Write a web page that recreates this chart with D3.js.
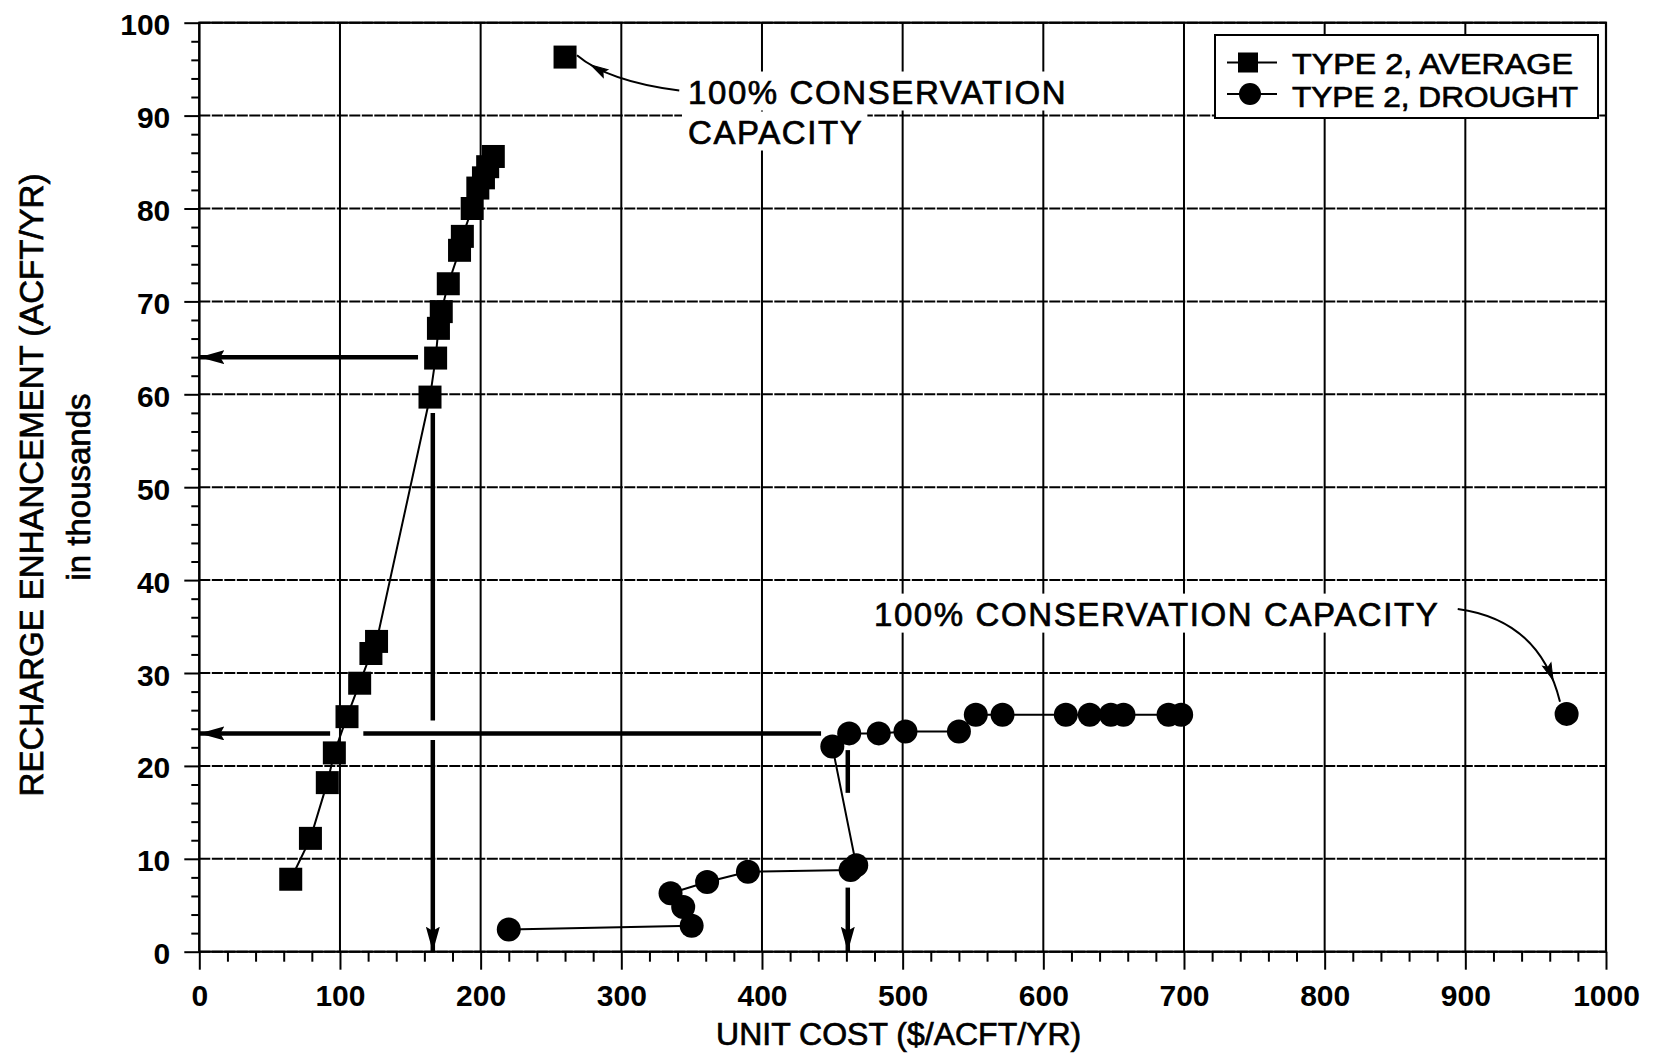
<!DOCTYPE html>
<html>
<head>
<meta charset="utf-8">
<script src="https://cdn.jsdelivr.net/npm/d3@7"></script>
<style>
  html, body { margin: 0; padding: 0; background: #fff; }
  svg { display: block; }
  text { font-family: "Liberation Sans", Arial, Helvetica, sans-serif; fill: #000; }
  text.heavy { stroke: #000; stroke-width: 0.7px; }
</style>
</head>
<body>
<svg id="chart" width="1660" height="1059"></svg>
<script>
// Type 2 recharge enhancement (thousand acre-feet/yr) against unit cost ($/acre-foot/yr)
const averageCost     = [65, 79, 91, 96, 105, 114, 122, 126, 164, 168, 170, 172, 177, 185, 187, 194, 198, 202, 205, 209];
const averageRecharge = [7.8, 12.2, 18.2, 21.4, 25.3, 28.9, 32.1, 33.4, 59.7, 63.9, 67.1, 68.9, 71.9, 75.5, 77.0, 80.0, 82.2, 83.3, 84.5, 85.6];

const droughtCost     = [220, 350, 344, 335, 361, 390, 463, 467, 450, 462, 483, 502, 540, 552, 571, 616, 633, 648, 657, 689, 698];
const droughtRecharge = [2.4, 2.8, 4.8, 6.3, 7.5, 8.6, 8.8, 9.3, 22.1, 23.5, 23.5, 23.7, 23.7, 25.5, 25.5, 25.5, 25.5, 25.5, 25.5, 25.5, 25.5];

// 100% conservation capacity points (average, drought)
const capacityCost     = [260, 972];
const capacityRecharge = [96.3, 25.6];

// Axis ticks
const xMajorTicks = d3.range(0, 1001, 100);
const yMajorTicks = d3.range(0, 101, 10);
const xMinorTicks = d3.range(0, 1000, 20).filter(v => v % 100 !== 0);
const yMinorTicks = d3.range(0, 100, 2).filter(v => v % 10 !== 0);

// Read-off guide lines (cost, recharge) pairs; the last piece of each guide carries an arrowhead
const guideSegments = [
  [[155.5, 64.0], [0, 64.0]],
  [[166, 58.0], [166, 24.9]],
  [[166, 22.8], [166, 0]],
  [[442, 23.5], [116.6, 23.5]],
  [[93, 23.5], [0, 23.5]],
  [[461, 21.7], [461, 17.1]],
  [[461, 6.9], [461, 0]]
];
const guideArrowed = [true, false, true, false, true, false, true];

// Annotation callouts: text anchor, curve start / control / end (data units)
const noteLines   = [["100% CONSERVATION", "CAPACITY"], ["100% CONSERVATION CAPACITY"]];
const noteAnchor  = [[347.4, 91.3], [479.6, 35.1]];
const noteCurve   = [
  [[341.2, 92.7], [290.2, 93.7], [268.5, 96.5]],
  [[894.6, 36.9], [953.0, 35.7], [967.3, 26.9]]
];
const noteHeadAt  = [0.8, 0.86];   // curve parameter where each arrowhead tip sits

const legendLabels = ["TYPE 2, AVERAGE", "TYPE 2, DROUGHT"];

const svg = d3.select("#chart");
const plotLeft = 199.3, plotRight = 1606, plotTop = 22.7, plotBottom = 951.7;

const x = d3.scaleLinear().domain([0, 1000]).range([plotLeft, plotRight]);
const y = d3.scaleLinear().domain([0, 100]).range([plotBottom, plotTop]);

const defs = svg.append("defs");
defs.append("marker")
  .attr("id", "bigHead").attr("markerUnits", "userSpaceOnUse")
  .attr("viewBox", "0 0 25 14").attr("refX", 25).attr("refY", 7)
  .attr("markerWidth", 25).attr("markerHeight", 14).attr("orient", "auto")
  .append("path").attr("d", "M0,0 L25,7 L0,14 L4,7 Z").attr("fill", "#000");

// Gridlines
const grid = svg.append("g");
grid.selectAll("line.h").data(yMajorTicks).join("line").attr("class", "h")
  .attr("x1", x(0)).attr("x2", x(1000))
  .attr("y1", d => y(d)).attr("y2", d => y(d))
  .attr("stroke", "#000").attr("stroke-width", 2)
  .attr("stroke-dasharray", "11,1.5");
grid.selectAll("line.v").data(xMajorTicks).join("line").attr("class", "v")
  .attr("x1", d => x(d)).attr("x2", d => x(d))
  .attr("y1", y(0)).attr("y2", y(100))
  .attr("stroke", "#000").attr("stroke-width", 2);

// Axes
const styleAxis = g => {
  g.select(".domain").remove();
  g.selectAll(".tick line").attr("stroke", "#000").attr("stroke-width", 2);
  g.selectAll("text").attr("font-size", 30).attr("font-weight", "bold")
    .attr("font-family", "\"Liberation Sans\", Arial, sans-serif").attr("fill", "#000");
};
svg.append("g").attr("transform", `translate(${plotLeft},0)`)
  .call(d3.axisLeft(y).tickValues(yMajorTicks).tickSize(15).tickPadding(14).tickFormat(d3.format("d")))
  .call(styleAxis)
  .call(g => g.selectAll("text").attr("dy", "0.4em"));
svg.append("g").attr("transform", `translate(${plotLeft},0)`)
  .call(d3.axisLeft(y).tickValues(yMinorTicks).tickSize(8).tickFormat(""))
  .call(styleAxis);
svg.append("g").attr("transform", `translate(0,${plotBottom})`)
  .call(d3.axisBottom(x).tickValues(xMajorTicks).tickSize(18).tickPadding(15).tickFormat(d3.format("d")))
  .call(styleAxis);
svg.append("g").attr("transform", `translate(0,${plotBottom})`)
  .call(d3.axisBottom(x).tickValues(xMinorTicks).tickSize(10).tickFormat(""))
  .call(styleAxis);

// Frame
svg.append("rect")
  .attr("x", plotLeft).attr("y", plotTop).attr("width", plotRight - plotLeft).attr("height", plotBottom - plotTop)
  .attr("fill", "none").attr("stroke", "#000").attr("stroke-width", 2.2);

// Axis titles
svg.append("text").attr("class", "heavy")
  .attr("x", (plotLeft + plotRight) / 2 - 4).attr("y", 1045)
  .attr("text-anchor", "middle").attr("font-size", 32)
  .text("UNIT COST ($/ACFT/YR)");
svg.append("text").attr("class", "heavy")
  .attr("transform", "translate(43,485) rotate(-90)")
  .attr("text-anchor", "middle").attr("font-size", 33)
  .text("RECHARGE ENHANCEMENT (ACFT/YR)");
svg.append("text").attr("class", "heavy")
  .attr("transform", "translate(90,487) rotate(-90)")
  .attr("text-anchor", "middle").attr("font-size", 33)
  .text("in thousands");

// Annotation labels with knocked-out background
const notes = svg.append("g");
noteLines.forEach((lines, i) => {
  const [ax, ay] = noteAnchor[i];
  lines.forEach((txt, j) => {
    const t = notes.append("text").attr("class", "heavy")
      .attr("x", x(ax)).attr("y", y(ay) + j * 40)
      .attr("font-size", 33).attr("letter-spacing", 1.6)
      .text(txt);
    const b = t.node().getBBox();
    notes.insert("rect", "text")
      .attr("x", b.x - 6).attr("y", b.y - 2)
      .attr("width", b.width + 10).attr("height", b.height + 2)
      .attr("fill", "#fff");
  });
});

// Guide lines
svg.append("g").selectAll("line").data(guideSegments).join("line")
  .attr("x1", d => x(d[0][0])).attr("y1", d => y(d[0][1]))
  .attr("x2", d => x(d[1][0])).attr("y2", d => y(d[1][1]))
  .attr("stroke", "#000").attr("stroke-width", 4.5)
  .attr("marker-end", (d, i) => guideArrowed[i] ? "url(#bigHead)" : null);

// Series lines
const avgPts = averageCost.map((c, i) => [c, averageRecharge[i]]);
const drtPts = droughtCost.map((c, i) => [c, droughtRecharge[i]]);
const lineGen = d3.line().x(d => x(d[0])).y(d => y(d[1]));
svg.append("path").attr("d", lineGen(avgPts)).attr("fill", "none").attr("stroke", "#000").attr("stroke-width", 2);
svg.append("path").attr("d", lineGen(drtPts)).attr("fill", "none").attr("stroke", "#000").attr("stroke-width", 2);

// Markers
const sq = 23;
svg.append("g").selectAll("rect").data(avgPts.concat([[capacityCost[0], capacityRecharge[0]]])).join("rect")
  .attr("x", d => x(d[0]) - sq / 2).attr("y", d => y(d[1]) - sq / 2)
  .attr("width", sq).attr("height", sq).attr("fill", "#000");
svg.append("g").selectAll("circle").data(drtPts.concat([[capacityCost[1], capacityRecharge[1]]])).join("circle")
  .attr("cx", d => x(d[0])).attr("cy", d => y(d[1])).attr("r", 12).attr("fill", "#000");

// Callout arrows: quadratic curve with an arrowhead placed on the curve
const callouts = svg.append("g");
noteCurve.forEach((d, i) => {
  const p = d.map(q => [x(q[0]), y(q[1])]);
  callouts.append("path")
    .attr("d", `M${p[0][0]},${p[0][1]} Q${p[1][0]},${p[1][1]} ${p[2][0]},${p[2][1]}`)
    .attr("fill", "none").attr("stroke", "#000").attr("stroke-width", 2);
  const t = noteHeadAt[i], u = 1 - t;
  const tip = [u * u * p[0][0] + 2 * u * t * p[1][0] + t * t * p[2][0],
               u * u * p[0][1] + 2 * u * t * p[1][1] + t * t * p[2][1]];
  const dir = [2 * u * (p[1][0] - p[0][0]) + 2 * t * (p[2][0] - p[1][0]),
               2 * u * (p[1][1] - p[0][1]) + 2 * t * (p[2][1] - p[1][1])];
  const ang = Math.atan2(dir[1], dir[0]) * 180 / Math.PI;
  callouts.append("path")
    .attr("transform", `translate(${tip[0]},${tip[1]}) rotate(${ang})`)
    .attr("d", "M0,0 L-17,-4.5 L-14,0 L-17,4.5 Z").attr("fill", "#000")
    .attr("stroke", "#000").attr("stroke-width", 1);
});

// Legend
const legendWidths = [281, 286];
const lg = svg.append("g");
lg.append("rect").attr("x", 1215).attr("y", 35).attr("width", 383).attr("height", 83)
  .attr("fill", "#fff").attr("stroke", "#000").attr("stroke-width", 2);
legendLabels.forEach((lab, i) => {
  const cy = 62.5 + i * 31.5;
  lg.append("line").attr("x1", 1227).attr("x2", 1277).attr("y1", cy).attr("y2", cy)
    .attr("stroke", "#000").attr("stroke-width", 2);
  if (i === 0) {
    lg.append("rect").attr("x", 1238).attr("y", cy - 10).attr("width", 20).attr("height", 20).attr("fill", "#000");
  } else {
    lg.append("circle").attr("cx", 1250).attr("cy", cy).attr("r", 11).attr("fill", "#000");
  }
  lg.append("text").attr("class", "heavy")
    .attr("x", 1292).attr("y", 74 + i * 32.5).attr("font-size", 29)
    .attr("textLength", legendWidths[i]).attr("lengthAdjust", "spacingAndGlyphs")
    .text(lab);
});
</script>
</body>
</html>
